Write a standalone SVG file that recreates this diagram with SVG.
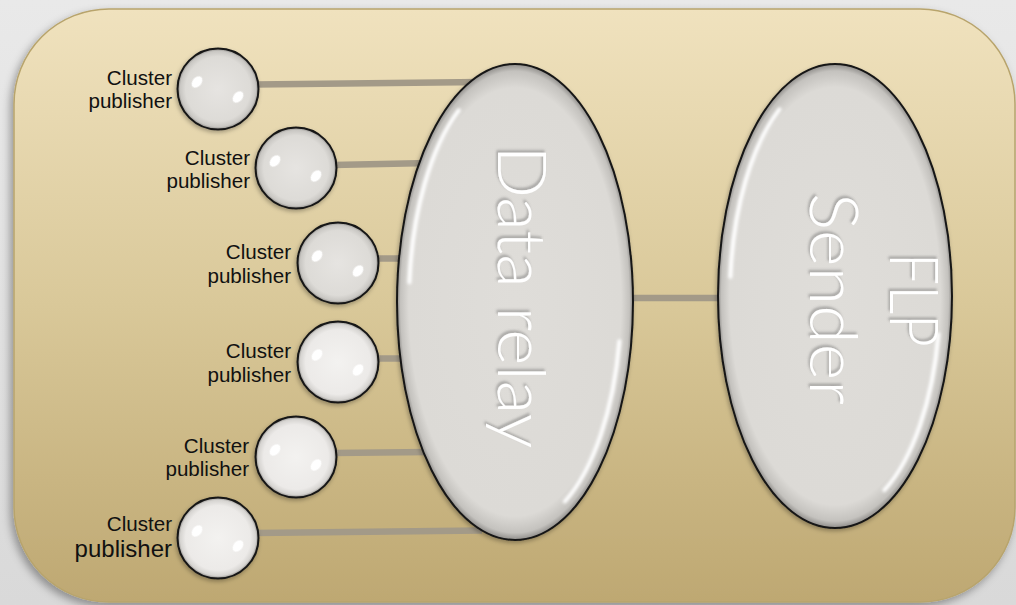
<svg xmlns="http://www.w3.org/2000/svg" width="1016" height="605" viewBox="0 0 1016 605">
<defs>
<linearGradient id="bg" x1="0" y1="0" x2="0" y2="1">
<stop offset="0" stop-color="#e9e9e9"/>
<stop offset="1" stop-color="#d9d9d9"/>
</linearGradient>
<linearGradient id="panel" x1="0" y1="0" x2="0" y2="1">
<stop offset="0" stop-color="#f0e2be"/>
<stop offset="0.5" stop-color="#d9c899"/>
<stop offset="1" stop-color="#bea872"/>
</linearGradient>
<radialGradient id="ball" cx="0.5" cy="0.5" r="0.5">
<stop offset="0" stop-color="#e6e4e1"/>
<stop offset="0.8" stop-color="#dddbd7"/>
<stop offset="0.93" stop-color="#c9c7c3"/>
<stop offset="1" stop-color="#8d8b88"/>
</radialGradient>
<radialGradient id="ballw" cx="0.5" cy="0.5" r="0.5">
<stop offset="0" stop-color="#f3f2f0"/>
<stop offset="0.8" stop-color="#eceae8"/>
<stop offset="0.93" stop-color="#d6d4d1"/>
<stop offset="1" stop-color="#8d8b88"/>
</radialGradient>
<radialGradient id="egg" cx="0.5" cy="0.5" r="0.5">
<stop offset="0" stop-color="#dfddd9"/>
<stop offset="0.9" stop-color="#dcdad6"/>
<stop offset="0.97" stop-color="#c4c2be"/>
<stop offset="1" stop-color="#8f8d8a"/>
</radialGradient>
<filter id="pshadow" x="-5%" y="-5%" width="110%" height="115%">
<feDropShadow dx="-3" dy="4" stdDeviation="4" flood-color="#000" flood-opacity="0.35"/>
</filter>
<filter id="nshadow" x="-20%" y="-20%" width="140%" height="140%">
<feDropShadow dx="-1" dy="2" stdDeviation="2" flood-color="#000" flood-opacity="0.3"/>
</filter>
<filter id="tshadow" x="-20%" y="-20%" width="140%" height="140%">
<feDropShadow dx="-2.5" dy="1.5" stdDeviation="1.2" flood-color="#666" flood-opacity="0.45"/>
</filter>
<filter id="blur1" x="-50%" y="-50%" width="200%" height="200%">
<feGaussianBlur stdDeviation="0.7"/>
</filter>
<filter id="blur2" x="-20%" y="-20%" width="140%" height="140%">
<feGaussianBlur stdDeviation="1.5"/>
</filter>
</defs>
<style>
.lbl{font-family:"Liberation Sans",Arial,sans-serif;font-size:20.6px;fill:#111;text-anchor:end}
.big{font-family:Lato,"Liberation Sans",Arial,sans-serif;font-weight:300;font-size:67px;fill:#ffffff;text-anchor:middle;filter:url(#tshadow)}
.ball{stroke:#151515;stroke-width:2;filter:url(#nshadow)}
.egg{fill:url(#egg);stroke:#151515;stroke-width:2;filter:url(#nshadow)}
.spot{fill:#ffffff;filter:url(#blur1)}
.hl{fill:none;stroke:#ffffff;stroke-width:4;stroke-linecap:round;filter:url(#blur2)}
.conn{stroke:#a39a88;stroke-width:6.5;fill:none}
</style>
<rect x="0" y="0" width="1016" height="605" fill="url(#bg)"/>
<rect id="panel-bg" x="14" y="9" width="1001" height="593" rx="95" ry="95" fill="url(#panel)" stroke="#b8a46c" stroke-width="1.5" filter="url(#pshadow)"/>
<g id="connectors">
<line class="conn" x1="255" y1="84.5" x2="482" y2="82"/>
<line class="conn" x1="333" y1="165" x2="430" y2="163"/>
<line class="conn" x1="375" y1="258.5" x2="410" y2="258.5"/>
<line class="conn" x1="375" y1="358.5" x2="410" y2="358.5"/>
<line class="conn" x1="333" y1="453" x2="430" y2="452"/>
<line class="conn" x1="255" y1="533" x2="482" y2="530.5"/>
<line class="conn" x1="620" y1="298" x2="724" y2="298"/>
</g>
<g id="pub1">
<circle class="ball" cx="218" cy="89" r="40.5" fill="url(#ball)"/>
<ellipse class="spot" cx="197" cy="82" rx="4.5" ry="6.5" transform="rotate(40 197 82)"/>
<ellipse class="spot" cx="238" cy="97" rx="4.5" ry="6.5" transform="rotate(40 238 97)"/>
<text class="lbl" x="172" y="85">Cluster</text>
<text class="lbl" x="172" y="108">publisher</text>
</g>
<g id="pub2">
<circle class="ball" cx="296" cy="168" r="40.5" fill="url(#ball)"/>
<ellipse class="spot" cx="275" cy="161" rx="4.5" ry="6.5" transform="rotate(40 275 161)"/>
<ellipse class="spot" cx="316" cy="176" rx="4.5" ry="6.5" transform="rotate(40 316 176)"/>
<text class="lbl" x="250" y="165">Cluster</text>
<text class="lbl" x="250" y="188">publisher</text>
</g>
<g id="pub3">
<circle class="ball" cx="338" cy="263" r="40.5" fill="url(#ball)"/>
<ellipse class="spot" cx="317" cy="256" rx="4.5" ry="6.5" transform="rotate(40 317 256)"/>
<ellipse class="spot" cx="358" cy="271" rx="4.5" ry="6.5" transform="rotate(40 358 271)"/>
<text class="lbl" x="291" y="259">Cluster</text>
<text class="lbl" x="291" y="283">publisher</text>
</g>
<g id="pub4">
<circle class="ball" cx="338" cy="362" r="40.5" fill="url(#ballw)"/>
<ellipse class="spot" cx="317" cy="355" rx="4.5" ry="6.5" transform="rotate(40 317 355)"/>
<ellipse class="spot" cx="358" cy="370" rx="4.5" ry="6.5" transform="rotate(40 358 370)"/>
<text class="lbl" x="291" y="358">Cluster</text>
<text class="lbl" x="291" y="382">publisher</text>
</g>
<g id="pub5">
<circle class="ball" cx="296" cy="457" r="40.5" fill="url(#ballw)"/>
<ellipse class="spot" cx="275" cy="450" rx="4.5" ry="6.5" transform="rotate(40 275 450)"/>
<ellipse class="spot" cx="316" cy="465" rx="4.5" ry="6.5" transform="rotate(40 316 465)"/>
<text class="lbl" x="249" y="453">Cluster</text>
<text class="lbl" x="249" y="476">publisher</text>
</g>
<g id="pub6">
<circle class="ball" cx="218" cy="538" r="40.5" fill="url(#ballw)"/>
<ellipse class="spot" cx="197" cy="531" rx="4.5" ry="6.5" transform="rotate(40 197 531)"/>
<ellipse class="spot" cx="238" cy="546" rx="4.5" ry="6.5" transform="rotate(40 238 546)"/>
<text class="lbl" x="172" y="531">Cluster</text>
<text class="lbl" x="172" y="557" style="font-size:24px">publisher</text>
</g>
<g id="data-relay">
<ellipse class="egg" cx="515" cy="302" rx="118" ry="238"/>
<path class="hl" d="M 409.4 282.3 A 106 226 0 0 1 458.8 110.3"/>
<path class="hl" d="M 619.4 341.2 A 106 226 0 0 1 564.8 501.5"/>
<text class="big" transform="translate(498 297) rotate(90)" textLength="303" lengthAdjust="spacingAndGlyphs">Data relay</text>
</g>
<g id="flp-sender">
<ellipse class="egg" cx="835" cy="296" rx="117" ry="232"/>
<path class="hl" d="M 730.4 276.8 A 105 220 0 0 1 779.4 109.4"/>
<path class="hl" d="M 938.4 334.2 A 105 220 0 0 1 884.3 490.2"/>
<text class="big" transform="translate(890 300) rotate(90)" textLength="94" lengthAdjust="spacingAndGlyphs">FLP</text>
<text class="big" transform="translate(810 299) rotate(90)" textLength="212" lengthAdjust="spacingAndGlyphs">Sender</text>
</g>
</svg>
